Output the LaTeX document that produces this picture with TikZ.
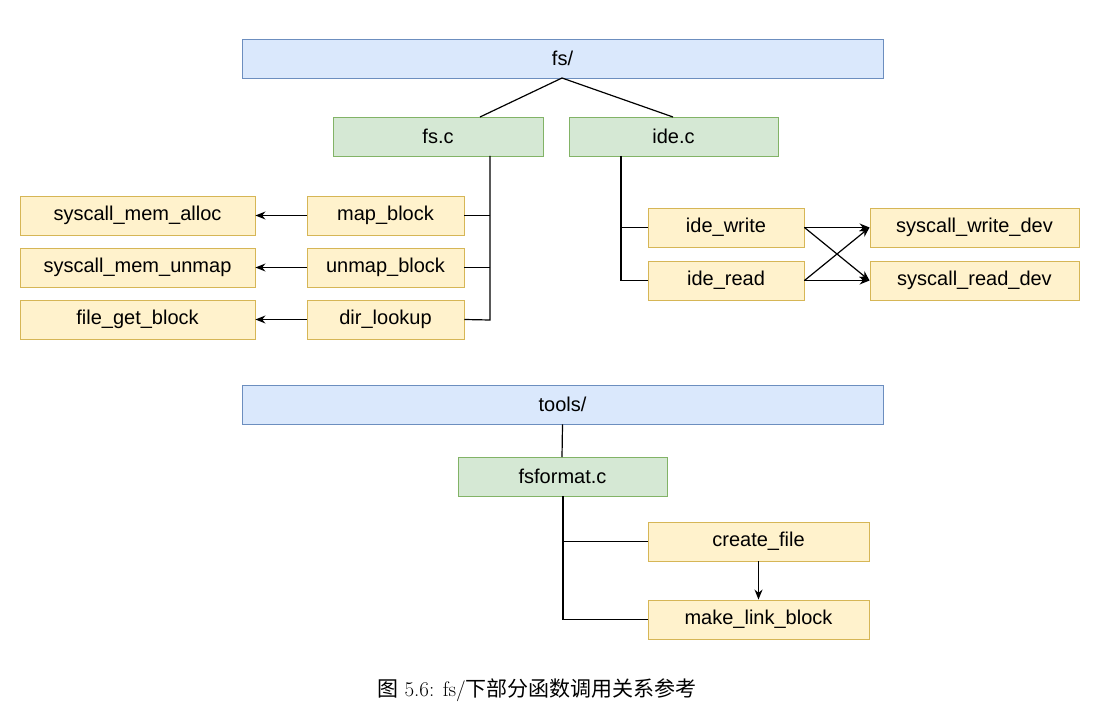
\documentclass[tikz,border=0pt]{standalone}
\usepackage{fontspec}
\setmainfont{Latin Modern Roman}
\newfontfamily\boxfont{Liberation Sans}
\newfontfamily\cjk{Noto Sans CJK SC}
\usetikzlibrary{arrows.meta}
\definecolor{bfill}{HTML}{DAE8FC}\definecolor{bdraw}{HTML}{6C8EBF}
\definecolor{gfill}{HTML}{D5E8D4}\definecolor{gdraw}{HTML}{82B366}
\definecolor{yfill}{HTML}{FFF2CC}\definecolor{ydraw}{HTML}{D6B656}
\begin{document}
\begin{tikzpicture}[x=1pt,y=-1pt,
  bx/.style={draw,inner sep=0pt,line width=0.9pt,font=\boxfont\fontsize{20}{24}\selectfont},
  blue/.style={bx,fill=bfill,draw=bdraw},
  green/.style={bx,fill=gfill,draw=gdraw},
  yel/.style={bx,fill=yfill,draw=ydraw},
  ar/.style={-{Stealth[length=10pt,width=8pt]}},
  ln/.style={line width=1.2pt}]
\useasboundingbox (0,0) rectangle (1102,722);
\newcommand\bx[6]{\node[#1,minimum width=#4-#2,minimum height=#5-#3] (#6) at ({(#2+#4)/2},{(#3+#5)/2})}
\bx{blue}{242}{39}{883}{78}{fs}{fs/};
\bx{green}{333}{117}{543}{156}{fsc}{fs.c};
\bx{green}{569}{117}{778}{156}{idec}{ide.c};
\bx{yel}{20}{196}{255}{235}{sma}{syscall\_mem\_alloc};
\bx{yel}{307}{196}{464}{235}{mb}{map\_block};
\bx{yel}{20}{248}{255}{287}{smu}{syscall\_mem\_unmap};
\bx{yel}{307}{248}{464}{287}{ub}{unmap\_block};
\bx{yel}{20}{300}{255}{339}{fgb}{file\_get\_block};
\bx{yel}{307}{300}{464}{339}{dl}{dir\_lookup};
\bx{yel}{648}{208}{804}{247}{iw}{ide\_write};
\bx{yel}{648}{261}{804}{300}{ir}{ide\_read};
\bx{yel}{870}{208}{1079}{247}{swd}{syscall\_write\_dev};
\bx{yel}{870}{261}{1079}{300}{srd}{syscall\_read\_dev};
\bx{blue}{242}{385}{883}{424}{tools}{tools/};
\bx{green}{458}{457}{667}{496}{fsf}{fsformat.c};
\bx{yel}{648}{522}{869}{561}{cf}{create\_file};
\bx{yel}{648}{600}{869}{639}{mlb}{make\_link\_block};
\coordinate (c1) at (480,117);
\coordinate (c2) at (673,117);
\draw[ln] (562,78) -- (c1);
\draw[ln] (562,78) -- (c2);
\draw[ln] (490,156) -- (490,320) -- (dl.east);
\draw[ln] (490,215.5) -- (mb.east);
\draw[ln] (490,267.5) -- (ub.east);
\draw[ln,ar] (mb) -- (sma);
\draw[ln,ar] (ub) -- (smu);
\draw[ln,ar] (dl) -- (fgb);
\draw[ln] (621,156) -- (621,280.5) -- (ir.west);
\draw[ln] (621,227.5) -- (iw.west);
\draw[ln,ar] (iw.east) -- (swd.west);
\draw[ln,ar] (iw.east) -- (srd.west);
\draw[ln,ar] (ir.east) -- (swd.west);
\draw[ln,ar] (ir.east) -- (srd.west);
\draw[ln] (tools.south) -- (562,457);
\draw[ln] (563,496) -- (563,619.5) -- (mlb.west);
\draw[ln] (563,541.5) -- (cf.west);
\draw[ln,ar] (cf) -- (mlb);
\node[font=\fontsize{21}{24}\selectfont] (cap) at (537,690) {{\cjk 图} 5.6: fs/{\cjk 下部分函数调用关系参考}};
\end{tikzpicture}
\end{document}
